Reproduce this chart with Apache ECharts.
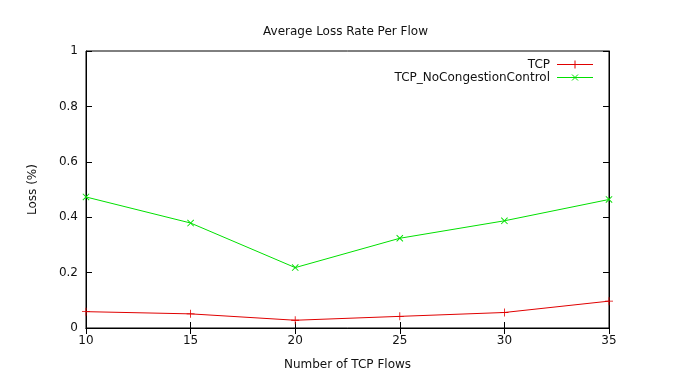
<!DOCTYPE html>
<html><head><meta charset="utf-8">
<script src="https://cdn.jsdelivr.net/npm/echarts@6/dist/echarts.min.js"></script>
<style>html,body{margin:0;padding:0;background:#fff}#c{width:691px;height:380px}</style>
</head><body><div id="c"></div>
<script>
var categories = [10, 15, 20, 25, 30, 35];
var tcp = [0.059, 0.051, 0.028, 0.042, 0.056, 0.097];
var tcpNoCC = [0.473, 0.379, 0.218, 0.324, 0.387, 0.464];
var yTicks = [0, 0.2, 0.4, 0.6, 0.8, 1];
var seriesNames = ['TCP', 'TCP_NoCongestionControl'];
var colors = ['#e00000', '#00e000'];

var FONT = 'DejaVu Sans';
var FS = 12;
var TXT = '#111';
var plusPath = 'path://M0,4.5H10V5.5H0Z M4.5,0H5.5V10H4.5Z';

var chart = echarts.init(document.getElementById('c'), null, {renderer: 'canvas'});
var G = {left: 86, right: 82, top: 51, bottom: 52};
var L = {textRight: 550, lineX1: 557, lineX2: 593, y1: 64, y2: 77};

function toPairs(arr) { return categories.map(function (c, i) { return [c, arr[i]]; }); }

var axisCommon = {
  axisLine: {show: true, lineStyle: {color: '#000', width: 1}},
  axisTick: {show: true, inside: true, length: 6, lineStyle: {color: '#000'}},
  splitLine: {show: false},
  axisLabel: {color: TXT, fontFamily: FONT, fontSize: FS}
};

chart.setOption({
  animation: false,
  title: {text: 'Average Loss Rate Per Flow', left: 'center', top: 21,
    textStyle: {fontFamily: FONT, fontSize: FS, fontWeight: 'normal', color: TXT}},
  grid: {left: G.left, right: G.right, top: G.top, bottom: G.bottom, show: true,
    borderColor: '#000', borderWidth: 1},
  xAxis: [
    Object.assign({type: 'value', min: 10, max: 35, interval: 5, position: 'bottom',
      name: 'Number of TCP Flows', nameLocation: 'middle', nameGap: 31,
      nameTextStyle: {fontFamily: FONT, fontSize: FS, color: TXT}}, axisCommon,
      {axisLabel: {color: TXT, fontFamily: FONT, fontSize: FS, margin: 7}}),
    Object.assign({type: 'value', min: 10, max: 35, interval: 5, position: 'top'}, axisCommon,
      {axisLabel: {show: false}})
  ],
  yAxis: [
    Object.assign({type: 'value', min: 0, max: 1, interval: 0.2, position: 'left',
      name: 'Loss (%)', nameLocation: 'middle', nameGap: 47,
      nameTextStyle: {fontFamily: FONT, fontSize: FS, color: TXT}}, axisCommon,
      {axisLabel: {color: TXT, fontFamily: FONT, fontSize: FS, margin: 8,
        formatter: function (v) { return yTicks.indexOf(+v.toFixed(1)) >= 0 ? String(+v.toFixed(1)) : ''; }}}),
    Object.assign({type: 'value', min: 0, max: 1, interval: 0.2, position: 'right'}, axisCommon,
      {axisLabel: {show: false}})
  ],
  series: [
    {name: seriesNames[0], type: 'line', data: toPairs(tcp), xAxisIndex: 0, yAxisIndex: 0,
      symbol: plusPath, symbolSize: 8, showAllSymbol: true,
      lineStyle: {color: colors[0], width: 1}, itemStyle: {color: colors[0]}},
    {name: seriesNames[1], type: 'line', data: toPairs(tcpNoCC), xAxisIndex: 0, yAxisIndex: 0,
      symbol: plusPath, symbolSize: 9, symbolRotate: 45, showAllSymbol: true,
      lineStyle: {color: colors[1], width: 1}, itemStyle: {color: colors[1]}}
  ],
  graphic: [
    {type: 'text', x: L.textRight, y: L.y1 + 1, style: {text: seriesNames[0], align: 'right', verticalAlign: 'middle',
      fontFamily: FONT, fontSize: FS, fill: TXT}},
    {type: 'line', shape: {x1: L.lineX1, y1: L.y1 + 0.5, x2: L.lineX2, y2: L.y1 + 0.5}, style: {stroke: colors[0], lineWidth: 1}},
    {type: 'line', shape: {x1: (L.lineX1 + L.lineX2) / 2, y1: L.y1 - 3.5, x2: (L.lineX1 + L.lineX2) / 2, y2: L.y1 + 4.5}, style: {stroke: colors[0], lineWidth: 1}},
    {type: 'text', x: L.textRight, y: L.y2 + 1, style: {text: seriesNames[1], align: 'right', verticalAlign: 'middle',
      fontFamily: FONT, fontSize: FS, fill: TXT}},
    {type: 'line', shape: {x1: L.lineX1, y1: L.y2 + 0.5, x2: L.lineX2, y2: L.y2 + 0.5}, style: {stroke: colors[1], lineWidth: 1}},
    {type: 'line', shape: {x1: (L.lineX1 + L.lineX2) / 2 - 3, y1: L.y2 - 2.5, x2: (L.lineX1 + L.lineX2) / 2 + 3, y2: L.y2 + 3.5}, style: {stroke: colors[1], lineWidth: 1}},
    {type: 'line', shape: {x1: (L.lineX1 + L.lineX2) / 2 + 3, y1: L.y2 - 2.5, x2: (L.lineX1 + L.lineX2) / 2 - 3, y2: L.y2 + 3.5}, style: {stroke: colors[1], lineWidth: 1}}
  ]
});
</script></body></html>
